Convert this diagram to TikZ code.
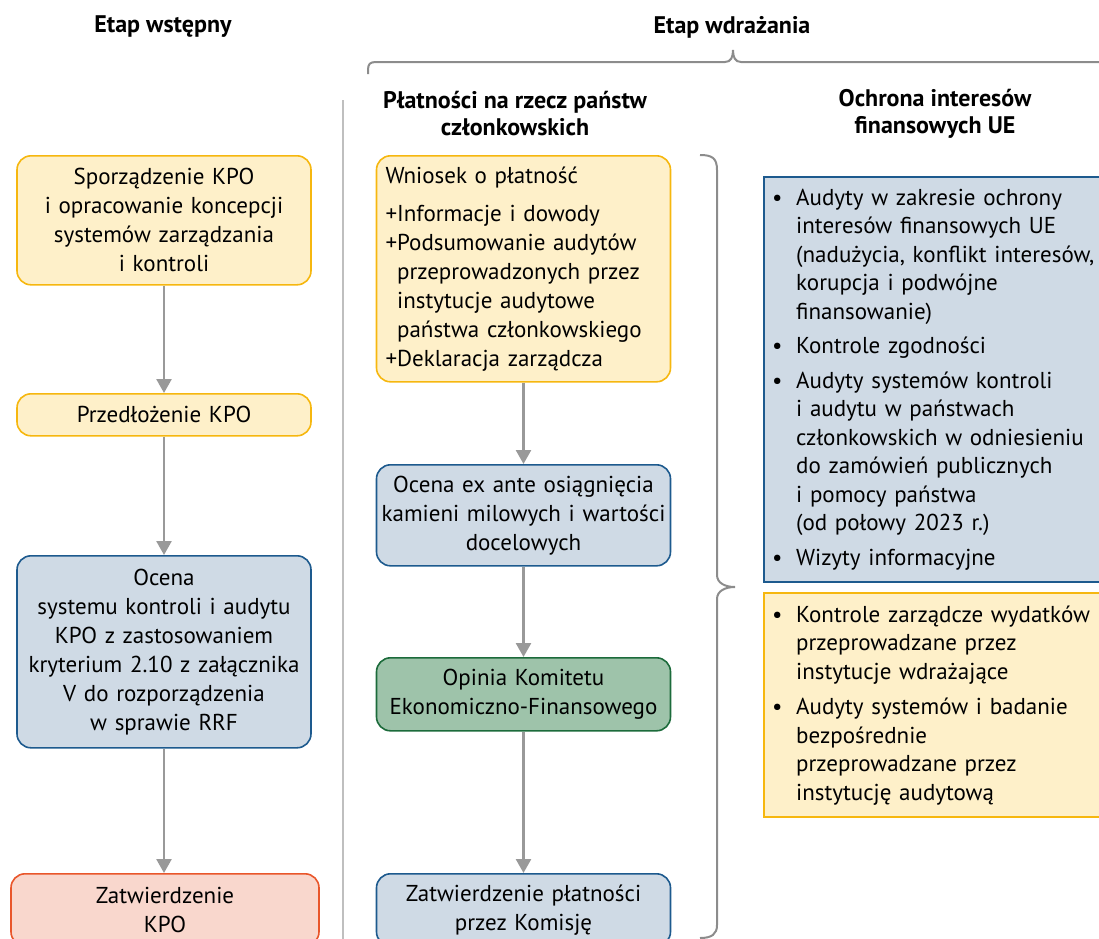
\documentclass[tikz,border=0pt]{standalone}
\usepackage{fontspec}
\setmainfont{PT Sans}
\usetikzlibrary{arrows.meta,positioning}

\definecolor{ylwfill}{HTML}{FEF0C9}
\definecolor{ylwline}{HTML}{F6B70F}
\definecolor{bluefill}{HTML}{CFDAE5}
\definecolor{blueline}{HTML}{1D5A8E}
\definecolor{grnfill}{HTML}{9EC3AA}
\definecolor{grnline}{HTML}{1C6B3B}
\definecolor{redfill}{HTML}{F9D7CD}
\definecolor{redline}{HTML}{E9562B}
\definecolor{flowgray}{HTML}{999999}
\definecolor{bracegray}{HTML}{8C8C8C}

\newcommand{\blt}{\makebox[24pt][l]{\textbullet}}
\newcommand{\bhang}{\hspace*{24pt}}

\tikzset{
        box/.style={draw, rounded corners=14pt, line width=1.6pt, anchor=north,
                text width=276pt, align=center, inner xsep=9pt, inner ysep=0pt,
                font=\fontsize{23}{29}\selectfont},
        ybox/.style={box, fill=ylwfill, draw=ylwline},
        bbox/.style={box, fill=bluefill, draw=blueline},
        gbox/.style={box, fill=grnfill, draw=grnline},
        rbox/.style={box, fill=redfill, draw=redline, text width=290pt},
        listbox/.style={draw, line width=2.4pt, anchor=north west, text width=341pt,
                align=left, inner xsep=8pt, inner ysep=0pt,
                font=\fontsize{23}{28.5}\selectfont},
        head/.style={font=\bfseries\fontsize{24}{27}\selectfont, align=center},
        flow/.style={draw=flowgray, line width=2.6pt, -{Triangle[width=15pt,length=14pt]}},
        sepline/.style={draw=black!25, line width=1.2pt},
        bracel/.style={draw=bracegray, line width=2pt}
}

\begin{document}
\begin{tikzpicture}[x=1pt,y=-1pt]

        \useasboundingbox (0,0) rectangle (1099,938);
        \clip (0,0) rectangle (1099,938);

        % headings
        \node[head] (hdprep) at (163,27) {Etap wstępny};
        \node[head] (hdimpl) at (732,27) {Etap wdrażania};
        \node[head] (hdpay) at (515,114) {Płatności na rzecz państw\\członkowskich};
        \node[head] (hdpif) at (935,114) {Ochrona interesów\\finansowych UE};

        % preliminary stage
        \node[ybox, minimum height=129pt] (draft) at (164,155) {Sporządzenie KPO\\i opracowanie koncepcji\\systemów zarządzania\\i kontroli};
        \node[ybox, minimum height=42pt] (submit) at (164,393) {Przedłożenie KPO};
        \node[bbox, minimum height=192pt] (assess) at (164,555) {Ocena\\systemu kontroli i audytu\\KPO z zastosowaniem\\kryterium 2.10 z załącznika\\V do rozporządzenia\\w sprawie RRF};
        \node[rbox, minimum height=72pt] (approve) at (165,873) {Zatwierdzenie\\KPO};

        % payments
        \node[ybox, align=left, minimum height=226pt] (request) at (523.5,155) {Wniosek o płatność\\[9pt]
                +Informacje i dowody\\
                +Podsumowanie audytów\\
                \phantom{+}przeprowadzonych przez\\
                \phantom{+}instytucje audytowe\\
                \phantom{+}państwa członkowskiego\\
                +Deklaracja zarządcza};
        \node[bbox, text width=290pt, inner xsep=2pt, minimum height=101pt] (exante) at (523.5,464) {Ocena ex ante osiągnięcia\\kamieni milowych i wartości\\docelowych};
        \node[gbox, minimum height=73pt] (opinion) at (523.5,657) {Opinia Komitetu\\Ekonomiczno-Finansowego};
        \node[bbox, minimum height=72pt] (payment) at (523.5,873) {Zatwierdzenie płatności\\przez Komisję};

        % protection of financial interests
        \node[listbox, fill=bluefill, draw=blueline, minimum height=405pt] (pif) at (763,176) {%
                \blt Audyty w zakresie ochrony\\
                \bhang interesów finansowych UE\\
                \bhang (nadużycia, konflikt interesów,\\
                \bhang korupcja i podwójne\\
                \bhang finansowanie)\\[6pt]
                \blt Kontrole zgodności\\[6pt]
                \blt Audyty systemów kontroli\\
                \bhang i audytu w państwach\\
                \bhang członkowskich w odniesieniu\\
                \bhang do zamówień publicznych\\
                \bhang i pomocy państwa\\
                \bhang (od połowy 2023 r.)\\[6pt]
                \blt Wizyty informacyjne};
        \node[listbox, fill=ylwfill, draw=ylwline, minimum height=224pt] (mgmt) at (763,592) {%
                \blt Kontrole zarządcze wydatków\\
                \bhang przeprowadzane przez\\
                \bhang instytucje wdrażające\\[7pt]
                \blt Audyty systemów i badanie\\
                \bhang bezpośrednie\\
                \bhang przeprowadzane przez\\
                \bhang instytucję audytową};

        \draw[flow] (draft) -- (submit);
        \draw[flow] (submit) -- (assess);
        \draw[flow] (assess.south) -- (assess.south |- approve.north);
        \draw[flow] (request) -- (exante);
        \draw[flow] (exante) -- (opinion);
        \draw[flow] (opinion) -- (payment);

        \coordinate (septop) at (343,100);
        \coordinate (sepbot) at (343,940);
        \draw[sepline] (septop) -- (sepbot);

        % braces
        \draw[bracel] (368,74) -- (368,70) .. controls (368,64) and (370,62) .. (376,62) -- (725,62)
                .. controls (731,62) and (733,57) .. (733,50) .. controls (733,57) and (735,62) .. (741,62) -- (1110,62);
        \draw[bracel] (700,155) .. controls (712,155) and (717,158) .. (717,170) -- (717,575)
                .. controls (717,583) and (725,587) .. (735,587) .. controls (725,587) and (717,591) .. (717,599)
                -- (717,925) .. controls (717,934) and (712,938) .. (700,938);

\end{tikzpicture}
\end{document}
